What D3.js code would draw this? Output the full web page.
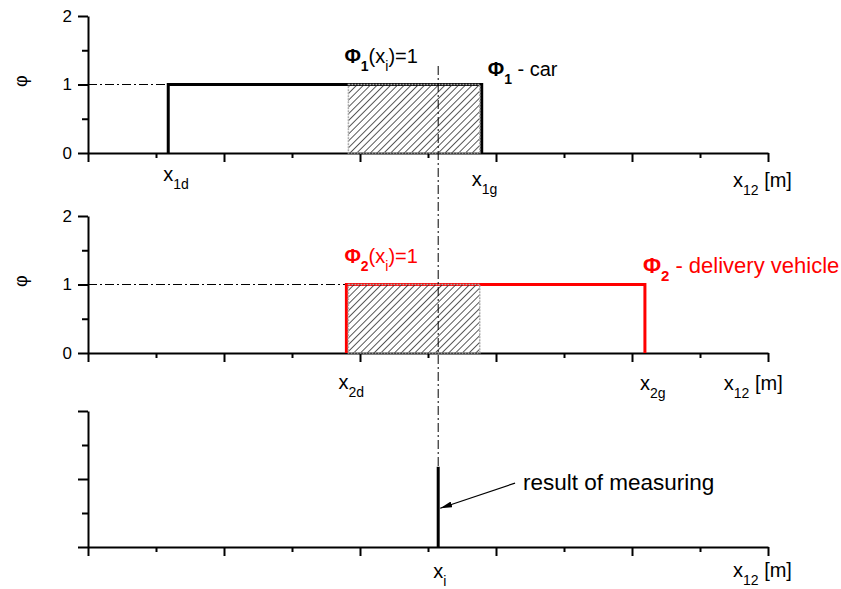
<!DOCTYPE html>
<html>
<head>
<meta charset="utf-8">
<script src="https://cdn.jsdelivr.net/npm/d3@7"></script>
<style>
  body { margin: 0; background: #fff; }
  text { font-family: "Liberation Sans", Arial, sans-serif; }
</style>
</head>
<body>
<div id="chart"></div>
<script>
// values (x in axis units, 1 unit = one minor tick)
const xMajor = [0, 2, 4, 6, 8, 10];
const xMinor = [1, 3, 5, 7, 9];
const yMajor = [0, 1, 2];
const yMinor = [0.5, 1.5];
const carEdges = [1.18, 5.79];       // x1d, x1g
const deliveryEdges = [3.8, 8.19];   // x2d, x2g
const overlap = [3.8, 5.79];         // hatched part, x2d .. x1g
const level = 1;
const measure = [5.15, 1.18];        // xi, height of the bar

const width = 841, height = 589;

const svg = d3.select("#chart").append("svg")
    .attr("width", width)
    .attr("height", height);

const x = d3.scaleLinear().domain([0, 10]).range([88, 768]);
const yTop = d3.scaleLinear().domain([0, 2]).range([153, 16]);
const yMid = d3.scaleLinear().domain([0, 2]).range([353, 216]);
const yBot = d3.scaleLinear().domain([0, 2]).range([547, 411]);

const defs = svg.append("defs");

// hatch
defs.append("pattern")
    .attr("id", "hatch")
    .attr("patternUnits", "userSpaceOnUse")
    .attr("width", 4.8).attr("height", 4.8)
    .attr("patternTransform", "rotate(45)")
  .append("line")
    .attr("x1", 0).attr("y1", 0).attr("x2", 0).attr("y2", 4.8)
    .attr("stroke", "#000").attr("stroke-width", 1.3);

function axes(y, withLabels) {
  const gy = svg.append("g")
      .attr("transform", `translate(${x(0)},0)`)
      .call(d3.axisLeft(y).tickValues(yMajor).tickSizeInner(10).tickSizeOuter(0)
        .tickPadding(6).tickFormat(withLabels ? d3.format("d") : () => ""));
  svg.append("g")
      .attr("transform", `translate(${x(0)},0)`)
      .call(d3.axisLeft(y).tickValues(yMinor).tickSize(6).tickFormat(""))
      .call(g => g.select(".domain").remove());
  svg.append("g")
      .attr("transform", `translate(0,${y(0)})`)
      .call(d3.axisBottom(x).tickValues(xMajor).tickSizeInner(9).tickSizeOuter(0).tickFormat(""));
  svg.append("g")
      .attr("transform", `translate(0,${y(0)})`)
      .call(d3.axisBottom(x).tickValues(xMinor).tickSize(5).tickFormat(""))
      .call(g => g.select(".domain").remove());
  svg.selectAll(".tick line, .domain").attr("stroke", "#000").attr("stroke-width", 2);
  gy.selectAll("text").attr("font-size", 17).attr("fill", "#000")
      .attr("font-family", "Liberation Sans, Arial, sans-serif");
}

axes(yTop, true);
axes(yMid, true);
axes(yBot, false);

// dash-dot guides
const dashDot = "9,3,2,3";
svg.append("line")
    .attr("x1", x(0)).attr("x2", x(carEdges[0]))
    .attr("y1", yTop(level)).attr("y2", yTop(level))
    .attr("stroke", "#000").attr("stroke-width", 1).attr("stroke-dasharray", dashDot);
svg.append("line")
    .attr("x1", x(0)).attr("x2", x(deliveryEdges[0]))
    .attr("y1", yMid(level)).attr("y2", yMid(level))
    .attr("stroke", "#000").attr("stroke-width", 1).attr("stroke-dasharray", dashDot);

// rectangular membership functions
const step = (edges, y) => d3.line()([
  [x(edges[0]), y(0)], [x(edges[0]), y(level)],
  [x(edges[1]), y(level)], [x(edges[1]), y(0)]
]);
svg.append("path").attr("d", step(carEdges, yTop))
    .attr("fill", "none").attr("stroke", "#000").attr("stroke-width", 3);
svg.append("path").attr("d", step(deliveryEdges, yMid))
    .attr("fill", "none").attr("stroke", "#ff0000").attr("stroke-width", 3);

// hatched overlap in both panels, drawn over the steps like in the original
[yTop, yMid].forEach(y => {
  svg.append("rect")
      .attr("x", x(overlap[0]) + 2)
      .attr("y", y(level))
      .attr("width", x(overlap[1]) - x(overlap[0]) - 4)
      .attr("height", y(0) - y(level))
      .attr("fill", "url(#hatch)")
      .attr("stroke", "#aaa")
      .attr("stroke-width", 1.5)
      .attr("stroke-dasharray", "2,1");
});

svg.append("line")
    .attr("x1", x(measure[0])).attr("x2", x(measure[0]))
    .attr("y1", yTop(1.27)).attr("y2", yBot(measure[1]))
    .attr("stroke", "#000").attr("stroke-width", 1).attr("stroke-dasharray", dashDot);

// measurement bar
svg.append("line")
    .attr("x1", x(measure[0])).attr("x2", x(measure[0]))
    .attr("y1", yBot(0)).attr("y2", yBot(measure[1]))
    .attr("stroke", "#000").attr("stroke-width", 3);

// arrow
defs.append("marker")
    .attr("id", "head")
    .attr("viewBox", "0 0 12 6")
    .attr("refX", 12).attr("refY", 3)
    .attr("markerWidth", 12).attr("markerHeight", 6)
    .attr("markerUnits", "userSpaceOnUse")
    .attr("orient", "auto")
  .append("path").attr("d", "M0,0L12,3L0,6Z").attr("fill", "#000");
svg.append("line")
    .attr("x1", x(6.28)).attr("y1", yBot(0.94))
    .attr("x2", x(measure[0]) + 2).attr("y2", yBot(0.57))
    .attr("stroke", "#000").attr("stroke-width", 1.2)
    .attr("marker-end", "url(#head)");
svg.append("text")
    .attr("x", x(6.28) + 8).attr("y", yBot(0.84))
    .attr("font-size", 22.5).attr("fill", "#000")
    .text("result of measuring");

// text with subscripts
function label(px, py, parts, color, size) {
  const fs = size || 20;
  const t = svg.append("text")
      .attr("x", px).attr("y", py)
      .attr("font-size", fs).attr("fill", color || "#000");
  let shift = 0;
  parts.forEach(p => {
    const target = p.sub ? 8 : 0;
    const s = t.append("tspan").text(p.t).attr("dy", target - shift);
    shift = target;
    if (p.sub) s.attr("font-size", Math.round(fs * 0.68));
    if (p.b) s.attr("font-weight", "bold");
  });
}

label(x(carEdges[0]) - 5, yTop(0) + 28, [{t: "x"}, {t: "1d", sub: true}]);
label(x(carEdges[1]) - 10, yTop(0) + 33, [{t: "x"}, {t: "1g", sub: true}]);
label(x(9.5) - 1, yTop(0) + 34, [{t: "x"}, {t: "12", sub: true}, {t: " [m]"}]);

label(x(deliveryEdges[0]) - 8, yMid(0) + 36, [{t: "x"}, {t: "2d", sub: true}]);
label(x(deliveryEdges[1]) - 5, yMid(0) + 37, [{t: "x"}, {t: "2g", sub: true}]);
label(x(9.35), yMid(0) + 37, [{t: "x"}, {t: "12", sub: true}, {t: " [m]"}]);

label(x(measure[0]) - 5, yBot(0) + 31, [{t: "x"}, {t: "i", sub: true}]);
label(x(9.5) - 1, yBot(0) + 30, [{t: "x"}, {t: "12", sub: true}, {t: " [m]"}]);

label(x(overlap[0]) - 2, yTop(level) - 22,
  [{t: "Φ", b: true}, {t: "1", sub: true, b: true}, {t: "(x"}, {t: "i", sub: true}, {t: ")=1"}]);
label(x(carEdges[1]) + 6, yTop(level) - 9,
  [{t: "Φ", b: true}, {t: "1", sub: true, b: true}, {t: " - car"}]);
label(x(overlap[0]) - 2, yMid(level) - 22,
  [{t: "Φ", b: true}, {t: "2", sub: true, b: true}, {t: "(x"}, {t: "i", sub: true}, {t: ")=1"}], "#ff0000");
label(x(deliveryEdges[1]) - 2, yMid(level) - 12,
  [{t: "Φ", b: true}, {t: "2", sub: true, b: true}, {t: " - delivery vehicle"}], "#ff0000", 22);

// y titles
[yTop, yMid].forEach(y => {
  svg.append("text")
      .attr("transform", `translate(21,${y(1.05)}) rotate(-90)`)
      .attr("text-anchor", "middle")
      .attr("dominant-baseline", "central")
      .attr("font-size", 18).attr("fill", "#000")
      .text("φ");
});
</script>
</body>
</html>
